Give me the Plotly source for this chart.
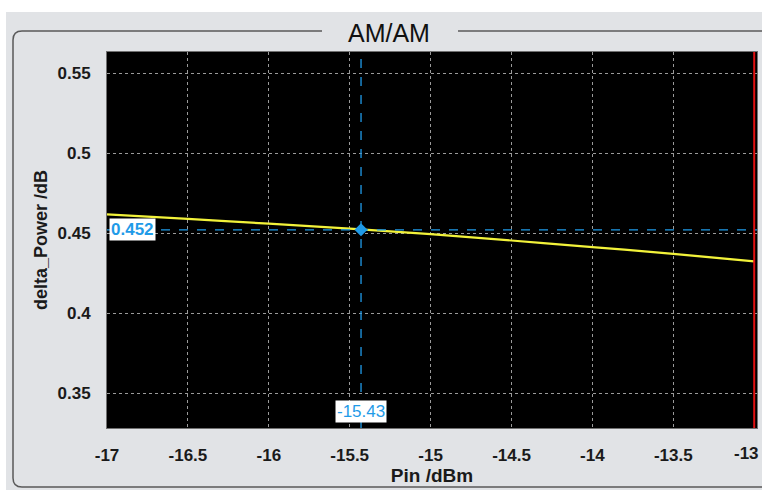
import plotly.graph_objects as go

pin_dbm = [-17.0, -16.5, -16.0, -15.5, -15.0, -14.5, -14.0, -13.5, -13.0]
delta_power_db = [0.4617, 0.4588, 0.4558, 0.4527, 0.4493, 0.4453, 0.4412, 0.4370, 0.4323]
cursor_x = -15.43
cursor_y = 0.452
x_ticks = [-17, -16.5, -16, -15.5, -15, -14.5, -14, -13.5, -13]
y_ticks = [0.35, 0.4, 0.45, 0.5, 0.55]

W, H = 762, 490
L, R, T, B = 107, 5, 52, 62
PW, PH = W - L - R, H - T - B
XS = 161.8  # px per dBm


def px(x):
    return (x - L) / PW


def py(y):
    return 1 - (y - T) / PH


BLUE = "#1f9be8"
FONT = "Liberation Sans Narrow, Arial Narrow, Liberation Sans, Arial"
TXT = "#1a1a1a"

fig = go.Figure()
fig.add_trace(go.Scatter(x=pin_dbm, y=delta_power_db, mode="lines",
                         line=dict(color="#f2f23a", width=2.2, shape="spline"),
                         hoverinfo="skip", showlegend=False))
fig.add_trace(go.Scatter(x=[cursor_x], y=[cursor_y], mode="markers",
                         marker=dict(symbol="diamond", size=10, color=BLUE),
                         showlegend=False, hoverinfo="skip"))

shapes = []
# white page strips
shapes.append(dict(type="rect", xref="paper", yref="paper", x0=px(0), x1=px(W + 5), y0=py(0), y1=py(12),
                   fillcolor="white", line=dict(width=0), layer="below"))
shapes.append(dict(type="rect", xref="paper", yref="paper", x0=px(0), x1=px(6), y0=py(0), y1=py(H),
                   fillcolor="white", line=dict(width=0), layer="below"))
# group box
r = 9
bx0, by0, by1 = 13, 31, 487
path = (f"M {px(322)},{py(by0)} L {px(bx0 + r)},{py(by0)} "
        f"Q {px(bx0)},{py(by0)} {px(bx0)},{py(by0 + r)} "
        f"L {px(bx0)},{py(by1 - r)} Q {px(bx0)},{py(by1)} {px(bx0 + r)},{py(by1)} "
        f"L {px(W + 5)},{py(by1)}")
shapes.append(dict(type="path", xref="paper", yref="paper", path=path,
                   line=dict(color="#5a5a5a", width=1.5), layer="below"))
shapes.append(dict(type="line", xref="paper", yref="paper", x0=px(458), x1=px(W + 5), y0=py(by0), y1=py(by0),
                   line=dict(color="#5a5a5a", width=1.5), layer="below"))
# red end line
shapes.append(dict(type="line", xref="x", yref="paper", x0=x_ticks[-1], x1=x_ticks[-1], y0=0, y1=1,
                   line=dict(color="#e01010", width=2)))
# cursor lines
shapes.append(dict(type="line", xref="x", yref="paper", x0=cursor_x, x1=cursor_x, y0=0, y1=1,
                   line=dict(color=BLUE, width=1.3, dash="dash")))
shapes.append(dict(type="line", xref="paper", yref="y", x0=0, x1=1, y0=cursor_y, y1=cursor_y,
                   line=dict(color=BLUE, width=1.3, dash="dash")))

annotations = [
    dict(text="AM/AM", xref="paper", yref="paper", x=px(389), y=py(32.5), showarrow=False,
         xanchor="center", yanchor="middle",
         font=dict(family="Liberation Sans, Arial", size=25, color="#111")),
    dict(text=f"{cursor_y:.3f}", xref="paper", yref="y", x=px(109), y=cursor_y, xanchor="left",
         yanchor="middle", showarrow=False, bgcolor="white", borderpad=1,
         font=dict(family=FONT, size=17, color=BLUE, weight="bold")),
    dict(text=f"{cursor_x:.2f}", xref="x", yref="paper", x=cursor_x, y=py(411.5), showarrow=False,
         xanchor="center", yanchor="middle", bgcolor="white", borderpad=1,
         font=dict(family=FONT, size=17, color=BLUE)),
    # last x tick label, nudged inside the figure as in the reference
    dict(text=f"{x_ticks[-1]:g}", xref="paper", yref="paper", x=px(746), y=py(453), showarrow=False,
         xanchor="center", yanchor="middle",
         font=dict(family=FONT, size=17, color=TXT, weight="bold")),
]

fig.update_layout(
    width=W, height=H,
    margin=dict(l=L, r=R, t=T, b=B, pad=0, autoexpand=False),
    paper_bgcolor="#e1e3e6",
    plot_bgcolor="black",
    shapes=shapes,
    annotations=annotations,
    font=dict(family=FONT, color=TXT),
)
fig.update_xaxes(range=[x_ticks[0], x_ticks[0] + PW / XS], tickvals=x_ticks,
                 ticktext=[f"{v:g}" for v in x_ticks[:-1]] + [""],
                 automargin=False,
                 showgrid=True, gridcolor="#9a9a9a", griddash="dot", gridwidth=1,
                 zeroline=False, showline=True, linecolor="#707070", mirror=True,
                 tickfont=dict(family=FONT, size=17, color=TXT, weight="bold"),
                 ticklabelstandoff=12,
                 title=dict(text="Pin /dBm", standoff=2,
                            font=dict(family=FONT, size=19, color=TXT, weight="bold")))
fig.update_yaxes(range=[0.35 - 35 / 1600, 0.55 + 21 / 1600], tickvals=y_ticks,
                 ticktext=["0.35", "0.4", "0.45", "0.5", "0.55"],
                 automargin=False,
                 showgrid=True, gridcolor="#9a9a9a", griddash="dot", gridwidth=1,
                 zeroline=False, showline=True, linecolor="#707070", mirror=True,
                 tickfont=dict(family=FONT, size=17, color=TXT, weight="bold"),
                 ticklabelstandoff=12,
                 title=dict(text="delta_Power /dB", standoff=5,
                            font=dict(family=FONT, size=18, color=TXT, weight="bold")))

fig.write_html("out.html", config={"displayModeBar": False},
               post_script="document.body.style.margin='0';document.body.style.padding='0';"
                           "document.body.style.overflow='hidden';")
